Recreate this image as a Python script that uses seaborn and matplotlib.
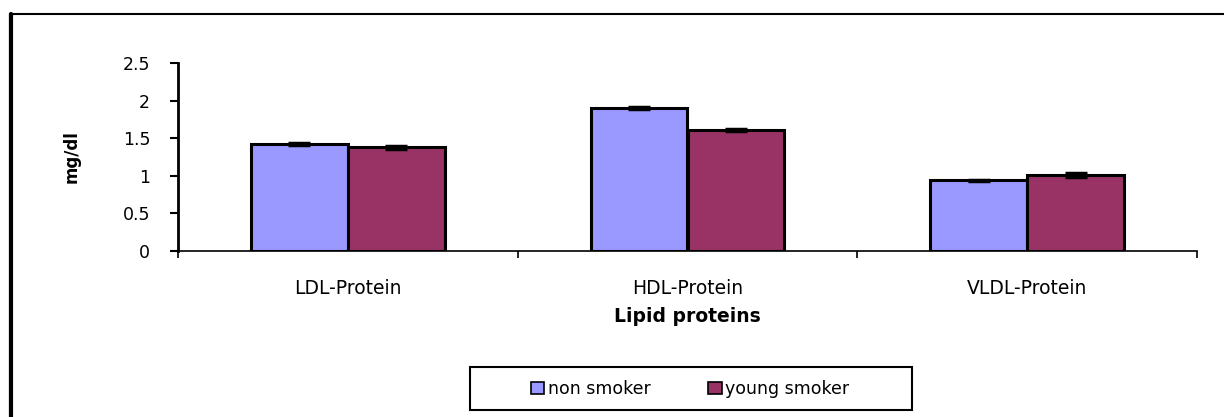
import numpy as np
import pandas as pd
import matplotlib
matplotlib.use("Agg")
import matplotlib.pyplot as plt
import seaborn as sns
from matplotlib.patches import Rectangle, Patch

# data
proteins = ["LDL-Protein", "HDL-Protein", "VLDL-Protein"]
groups = ["non smoker", "young smoker"]
non_smoker = [1.42, 1.90, 0.94]
young_smoker = [1.38, 1.61, 1.01]
non_smoker_err = [0.01, 0.015, 0.01]
young_smoker_err = [0.02, 0.01, 0.03]
colors = ["#9999FF", "#993366"]

df = pd.DataFrame({
    "protein": proteins * 2,
    "group": [groups[0]] * 3 + [groups[1]] * 3,
    "value": non_smoker + young_smoker,
    "err": non_smoker_err + young_smoker_err,
})

sns.set_style("white")
plt.rcParams["font.family"] = ["DejaVu Sans"]
plt.rcParams["text.color"] = "black"
plt.rcParams["axes.labelcolor"] = "black"
plt.rcParams["xtick.color"] = "black"
plt.rcParams["ytick.color"] = "black"

W, H = 1224, 417
fig = plt.figure(figsize=(W / 100, H / 100), dpi=100)
ax = fig.add_axes([178 / W, 1 - 251 / H, (1197 - 178) / W, (251 - 63) / H])

sns.barplot(data=df, x="protein", y="value", hue="group", palette=colors,
            saturation=1, width=0.57, gap=0, errorbar=None,
            edgecolor="black", linewidth=2.2, ax=ax, legend=False)

# error bars on bar centres
for cont, g in zip(ax.containers, groups):
    sub = df[df["group"] == g]
    xs = [p.get_x() + p.get_width() / 2 for p in cont.patches]
    ax.errorbar(xs, sub["value"], yerr=sub["err"], fmt="none", ecolor="black",
                elinewidth=2, capsize=8, capthick=2.5)

ax.set_ylim(0, 2.5)
ax.set_xlim(-0.5, 2.5)
ax.set_yticks(np.arange(0, 2.51, 0.5))
ax.set_yticklabels(["0", "0.5", "1", "1.5", "2", "2.5"])
ax.tick_params(axis="y", length=6, width=1.5, labelsize=12.5, pad=14, left=True)
ax.tick_params(axis="x", length=0, labelsize=13.5, pad=20)
ax.set_xticks([-0.5, 0.5, 1.5, 2.5], minor=True)
ax.tick_params(axis="x", which="minor", length=5, width=1.2, bottom=True)

for s in ["top", "right"]:
    ax.spines[s].set_visible(False)
ax.spines["left"].set_linewidth(2)
ax.spines["left"].set_color("black")
ax.spines["bottom"].set_linewidth(1.2)
ax.spines["bottom"].set_color("black")

ax.set_xlabel("Lipid proteins", fontsize=13.5, fontweight="bold", labelpad=7)
ax.set_ylabel("mg/dl", fontsize=12, fontweight="bold", labelpad=30)

# outer chart frame
fig.patches.append(Rectangle((10 / W, -0.1), 1.1, 1 - 14 / H + 0.1,
                             transform=fig.transFigure, fill=False,
                             edgecolor="black", linewidth=1.5))
fig.add_artist(plt.Line2D([11 / W, 11 / W], [0, 1 - 14 / H],
                          transform=fig.transFigure, color="black", linewidth=3))

# legend box
fig.patches.append(Rectangle((470 / W, 1 - 410 / H), (912 - 470) / W, (410 - 367) / H,
                             transform=fig.transFigure, fill=True, facecolor="white",
                             edgecolor="black", linewidth=1.5))
handles = [Patch(facecolor=c, edgecolor="black", linewidth=1.2) for c in colors]
fig.legend(handles, groups, loc="center", bbox_to_anchor=(690 / W, 1 - 389 / H),
           ncol=2, frameon=False, fontsize=12.5,
           handlelength=0.8, handleheight=0.7, handletextpad=0.2,
           columnspacing=3.3, borderaxespad=0)

fig.savefig("out.png", dpi=100)
